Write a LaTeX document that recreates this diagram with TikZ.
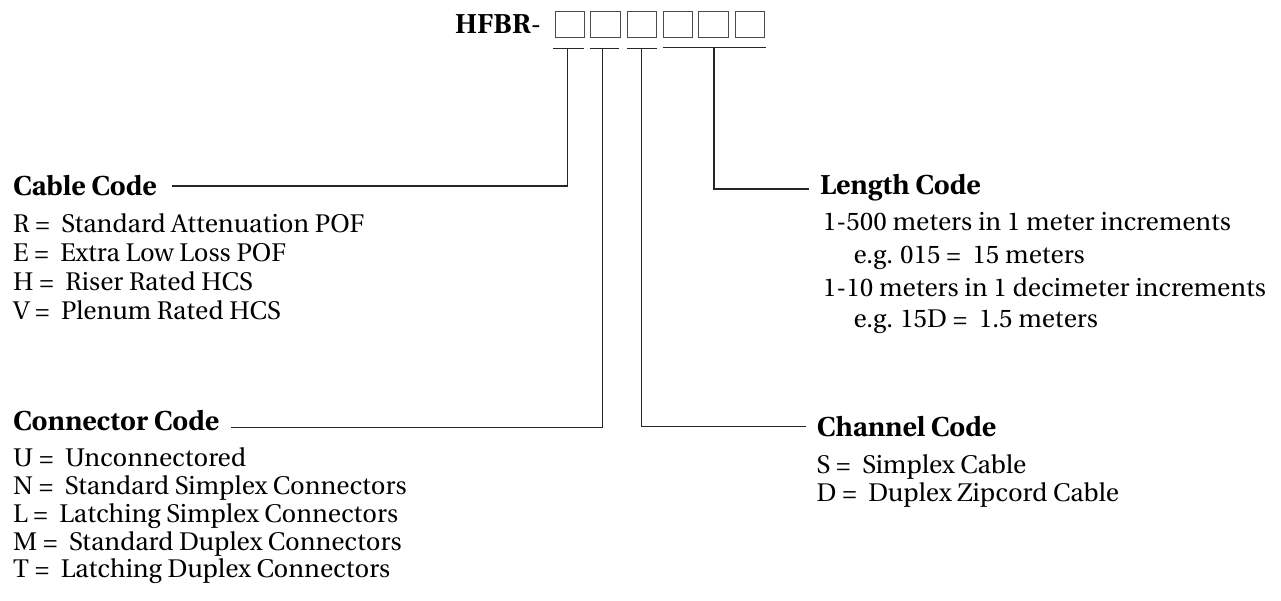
\documentclass[tikz,border=0pt]{standalone}
\usepackage[T1]{fontenc}
\renewcommand\rmdefault{put}
\begin{document}
\begin{tikzpicture}[x=1pt,y=-1pt,
  txt/.style={inner sep=0pt,anchor=base west,font=\fontsize{25.5}{28}\selectfont},
  ttl/.style={txt,font=\fontsize{27.3}{28}\selectfont\bfseries},
  digit/.style={draw=black!70,line width=0.9pt,minimum width=29.5pt,minimum height=26pt,inner sep=0pt},
  lead/.style={draw=black!85,line width=1.4pt}]
\useasboundingbox (0,0) rectangle (1281,600);
% part number
\node[ttl,font=\fontsize{27.3}{30}\selectfont\bfseries] (hfbr) at (455,33.3) {HFBR\textmd{-}};
\foreach \i/\x in {1/569.75,2/605.25,3/641.75,4/677.75,5/713.25,6/750}
  \node[digit] (b\i) at (\x,24) {};
% tick bars under the boxes
\coordinate (t1a) at (553.3,48.3); \coordinate (t1b) at (584,48.3);
\coordinate (t2a) at (590,48.3);   \coordinate (t2b) at (619.3,48.3);
\coordinate (t3a) at (627.3,48.3); \coordinate (t3b) at (657.3,48.3);
\coordinate (t4a) at (663.3,47.5); \coordinate (t4b) at (765.7,47.5);
\coordinate (k1) at (567.7,48.3);
\coordinate (k2) at (602.5,48.3);
\coordinate (k3) at (641.7,48.3);
\coordinate (k4) at (714,47.5);
\draw[lead] (t1a) -- (t1b);
\draw[lead] (t2a) -- (t2b);
\draw[lead] (t3a) -- (t3b);
\draw[lead] (t4a) -- (t4b);
% Cable code
\node[ttl] (cable) at (13,195) {Cable Code};
\node[txt] (c1) at (13,232.5) {R = \ Standard Attenuation POF};
\node[txt] (c2) at (13,261.5) {E = \ Extra Low Loss POF};
\node[txt] (c3) at (13,290.5) {H = \ Riser Rated HCS};
\node[txt] (c4) at (13,319.5) {V = \ Plenum Rated HCS};
% Connector code
\node[ttl] (conn) at (13,430) {Connector Code};
\node[txt] (n1) at (13,466.7) {U = \ Unconnectored};
\node[txt] (n2) at (13,494.5) {N = \ Standard Simplex Connectors};
\node[txt] (n3) at (13,522.3) {L = \ Latching Simplex Connectors};
\node[txt] (n4) at (13,550.1) {M = \ Standard Duplex Connectors};
\node[txt] (n5) at (13,577.9) {T = \ Latching Duplex Connectors};
% Length code
\node[ttl] (len) at (820,194.3) {Length Code};
\node[txt] (l1) at (822.7,230) {1-500 meters in 1 meter increments};
\node[txt] (l2) at (853.5,263.6) {e.g. 015 = \ 15 meters};
\node[txt] (l3) at (822.7,296) {1-10 meters in 1 decimeter increments};
\node[txt] (l4) at (853.5,327.3) {e.g. 15D = \ 1.5 meters};
% Channel code
\node[ttl] (chan) at (816.7,436.7) {Channel Code};
\node[txt] (h1) at (816.5,473.3) {S = \ Simplex Cable};
\node[txt] (h2) at (816.5,501.1) {D = \ Duplex Zipcord Cable};
% leaders
\coordinate (e1) at (172,186);
\coordinate (e2) at (230.7,427.2);
\coordinate (e3) at (806,426.7);
\coordinate (e4) at (809.3,189);
\draw[lead] (k1) |- (e1);
\draw[lead] (k2) |- (e2);
\draw[lead] (k3) |- (e3);
\draw[lead] (k4) |- (e4);
\end{tikzpicture}
\end{document}
